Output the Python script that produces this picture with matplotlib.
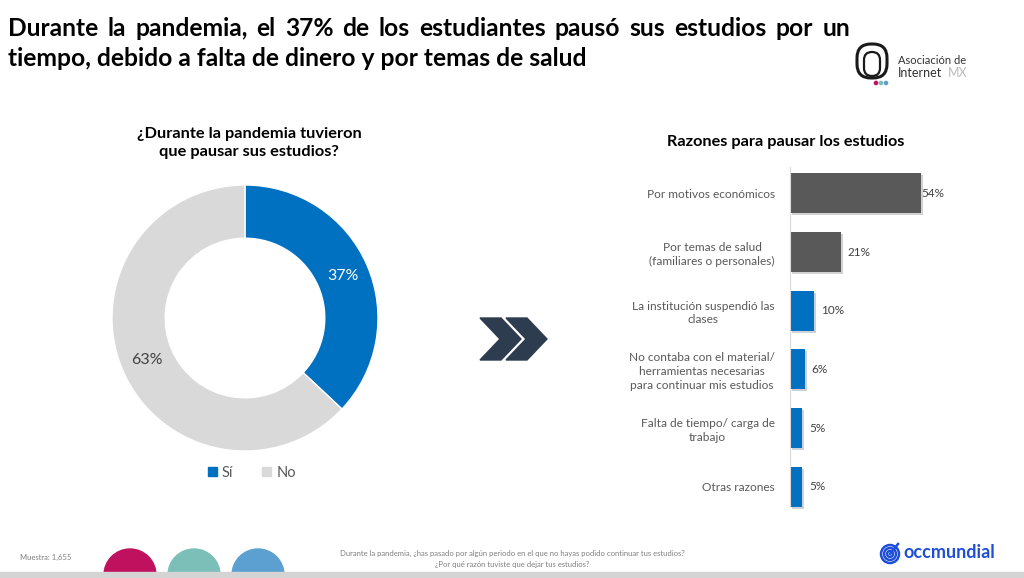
import matplotlib.pyplot as plt
from matplotlib.patches import Polygon, Circle, Rectangle, FancyBboxPatch, Patch
import matplotlib.patheffects as pe

plt.rcParams['font.family'] = ['Lato', 'DejaVu Sans']

# donut data
pie_labels = ["Sí", "No"]
pie_values = [37, 63]
pie_colors = ["#0070C0", "#D9D9D9"]

# bar data
reasons = [
    "Por motivos económicos",
    "Por temas de salud\n(familiares o personales)",
    "La institución suspendió las\nclases",
    "No contaba con el material/\nherramientas necesarias\npara continuar mis estudios",
    "Falta de tiempo/ carga de\ntrabajo",
    "Otras razones",
]
reason_values = [54, 21, 10, 6, 5, 5]
reason_colors = ["#595959", "#595959", "#0070C0", "#0070C0", "#0070C0", "#0070C0"]

title_1 = "Durante la pandemia, el 37% de los estudiantes pausó sus estudios por un"
title_2 = "tiempo, debido a falta de dinero y por temas de salud"

W, H = 1024, 578
fig = plt.figure(figsize=(W / 100, H / 100), dpi=100)
fig.patch.set_facecolor("white")

def px(l, t, w, h):
    return [l / W, (H - t - h) / H, w / W, h / H]

# overlay for decorations, pixel coords
deco = fig.add_axes([0, 0, 1, 1])
deco.set_xlim(0, W)
deco.set_ylim(H, 0)
deco.axis("off")

# main title, first line justified from x=8 to x=850
renderer = fig.canvas.get_renderer()
words = title_1.split()
tmp = [deco.text(0, 28, w, fontsize=17.7, fontweight="bold", va="center") for w in words]
widths = [t.get_window_extent(renderer).width for t in tmp]
for t in tmp:
    t.remove()
gap = (842 - sum(widths)) / (len(words) - 1)
x = 8
for w, wd in zip(words, widths):
    deco.text(x, 28, w, fontsize=17.7, fontweight="bold", va="center", ha="left", color="black")
    x += wd + gap
deco.text(8, 58, title_2, fontsize=17.7, fontweight="bold", va="center", ha="left", color="black")

# asociacion de internet logo
deco.add_patch(FancyBboxPatch((857, 44), 30, 34, boxstyle="round,pad=0,rounding_size=14",
                              fill=False, lw=2.2, ec="#1a1a1a"))
deco.add_patch(FancyBboxPatch((864, 52), 16, 24, boxstyle="round,pad=0,rounding_size=8",
                              fill=False, lw=1.6, ec="#1a1a1a"))
for xd, cd in zip([876, 881, 886], ["#C0115F", "#7BBFB8", "#5BA0D0"]):
    deco.add_patch(Circle((xd, 83), 1.6, color=cd))
deco.text(898, 60, "Asociación de", fontsize=8, color="#333333", va="center")
deco.text(898, 73, "Internet", fontsize=9, color="#333333", va="center")
deco.text(948, 73, "MX", fontsize=9, color="#BBBBBB", va="center")

# chevrons
for off in [0, 26]:
    pts = [(480 + off, 318), (501 + off, 318), (521 + off, 339), (501 + off, 360),
           (480 + off, 360), (500 + off, 339)]
    deco.add_patch(Polygon(pts, closed=True, color="#2E3C50"))

# bottom strip
for xc, cc in zip([130, 194, 258], ["#C0115F", "#7BBFB8", "#5BA0D0"]):
    deco.add_patch(Circle((xc, 575), 26, color=cc, zorder=1))
deco.add_patch(Rectangle((0, 572), W, 6, color="#D4D4D4", zorder=2))
deco.text(20, 557, "Muestra: 1,655", fontsize=5.5, color="#7F7F7F", va="center")
deco.text(512, 553, "Durante la pandemia, ¿has pasado por algún periodo en el que no hayas podido continuar tus estudios?",
          fontsize=5.5, color="#7F7F7F", ha="center", va="center")
deco.text(512, 565, "¿Por qué razón tuviste que dejar tus estudios?",
          fontsize=5.5, color="#7F7F7F", ha="center", va="center")

# occmundial logo
for r in [9, 6, 3]:
    deco.add_patch(Circle((890, 554), r, fill=False, ec="#1F4FD8", lw=1.8))
deco.plot([890, 898], [554, 544], color="#1F4FD8", lw=1.8)
deco.text(903, 553, "occmundial", fontsize=13, fontweight="bold", color="#1F4FD8", va="center")

# donut
ax1 = fig.add_axes(px(112, 185, 266, 266))
wedges, texts, autotexts = ax1.pie(pie_values, colors=pie_colors, startangle=90, counterclock=False,
                                   radius=1, wedgeprops=dict(width=0.4, edgecolor="white", linewidth=1),
                                   autopct="%1.0f%%", pctdistance=0.8,
                                   textprops=dict(fontsize=11.5))
autotexts[0].set_color("white")
autotexts[1].set_color("#404040")
ax1.set_xlim(-1, 1)
ax1.set_ylim(-1, 1)
ax1.set_aspect("equal")
deco.text(249, 143, "¿Durante la pandemia tuvieron\nque pausar sus estudios?", fontsize=11.8,
          fontweight="bold", ha="center", va="center", linespacing=1.3, color="black")
handles = [Patch(color=c, label=l) for c, l in zip(pie_colors, pie_labels)]
fig.legend(handles=handles, loc="center", bbox_to_anchor=(252 / W, 1 - 473 / H), ncol=2,
           frameon=False, fontsize=10.5, handlelength=0.6, handleheight=0.6, columnspacing=2.0,
           handletextpad=0.35, labelcolor="#595959")

# bars
ax2 = fig.add_axes(px(790, 164, 175, 352))
ypos = list(range(len(reasons)))
bars = ax2.barh(ypos, reason_values, height=0.68, color=reason_colors,
                path_effects=[pe.SimplePatchShadow(offset=(1.5, -1.5), alpha=0.2), pe.Normal()])
ax2.set_xlim(0, 72)
ax2.set_ylim(5.5, -0.5)
ax2.set_yticks(ypos)
ax2.set_yticklabels(reasons, fontsize=8.6, color="#595959", linespacing=1.3)
ax2.tick_params(axis="y", length=0, pad=11)
ax2.set_xticks([])
for s in ["top", "right", "bottom"]:
    ax2.spines[s].set_visible(False)
ax2.spines["left"].set_color("#D9D9D9")
ax2.spines["left"].set_bounds(-0.45, 5.35)
for label in ax2.get_yticklabels():
    label.set_multialignment("center")
for y, v in zip(ypos, reason_values):
    off = 0.2 if v > 40 else 2.8
    ax2.text(v + off, y, f"{v}%", va="center", ha="left", fontsize=8.5, color="#404040")
deco.text(786, 142, "Razones para pausar los estudios", fontsize=11.7, fontweight="bold",
          ha="center", va="center", color="black")

fig.savefig("out.png", dpi=100)
